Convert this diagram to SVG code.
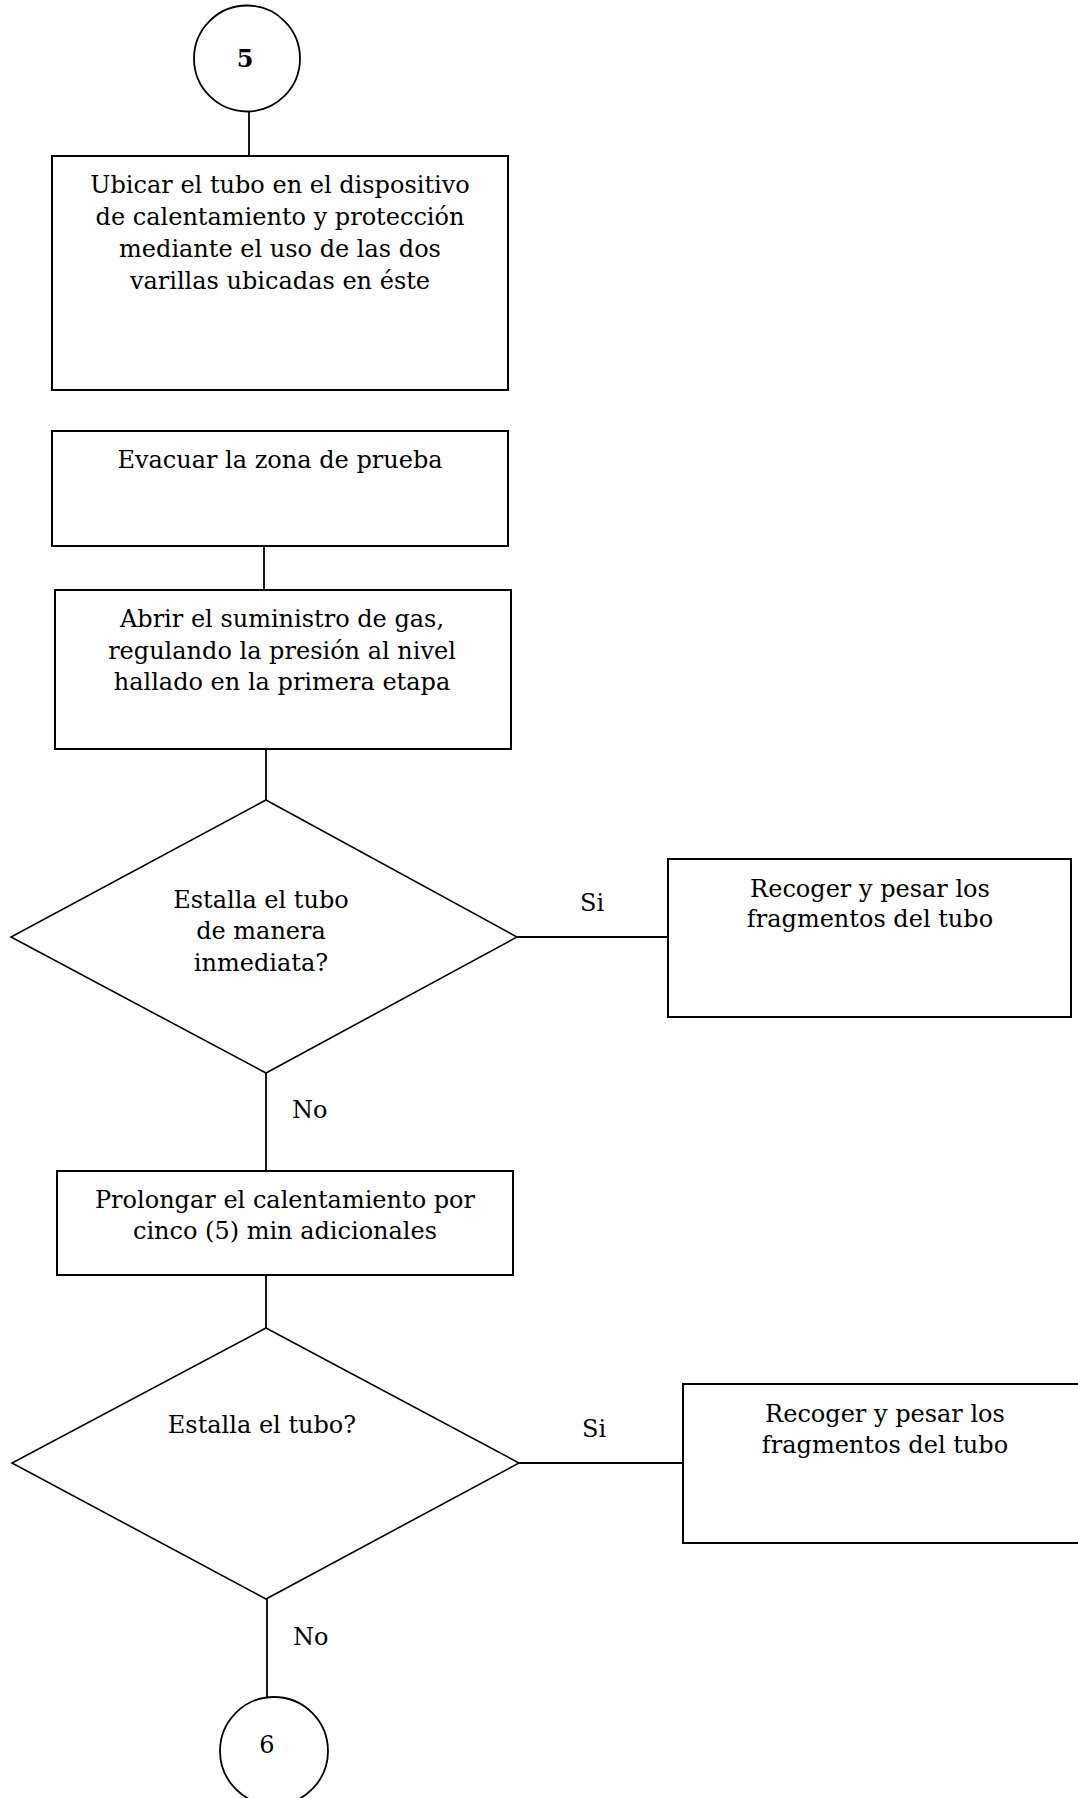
<svg xmlns="http://www.w3.org/2000/svg" width="1078" height="1798" viewBox="0 0 1078 1798">
<style>
.box{fill:#fff;stroke:#000;stroke-width:2}
.dia{fill:#fff;stroke:#000;stroke-width:1.6}
.circ{fill:#fff;stroke:#000;stroke-width:1.8}
.ln{stroke:#000;stroke-width:1.8;fill:none}
text{font-family:"DejaVu Serif","Liberation Serif",serif;font-size:24px;fill:#000;text-anchor:middle}
.lbl{text-anchor:start}
</style>
<rect width="1078" height="1798" fill="#fff"/>
<g id="connectors">
<line class="ln" x1="249" y1="111" x2="249" y2="156"/>
<line class="ln" x1="264" y1="546" x2="264" y2="590"/>
<line class="ln" x1="266" y1="749" x2="266" y2="800"/>
<line class="ln" x1="517" y1="937" x2="668" y2="937"/>
<text class="lbl" x="580" y="911">Si</text>
<line class="ln" x1="266" y1="1073" x2="266" y2="1171"/>
<text class="lbl" x="292" y="1118">No</text>
<line class="ln" x1="266" y1="1275" x2="266" y2="1328"/>
<line class="ln" x1="519" y1="1463" x2="683" y2="1463"/>
<text class="lbl" x="582" y="1437">Si</text>
<line class="ln" x1="267" y1="1599" x2="267" y2="1698"/>
<text class="lbl" x="293" y="1645">No</text>
</g>
<g id="n5">
<circle class="circ" cx="247" cy="58.5" r="53"/>
<text x="245" y="67" font-weight="bold">5</text>
</g>
<g id="ubicar">
<rect class="box" x="52" y="156" width="456" height="234"/>
<text x="280" y="193">Ubicar el tubo en el dispositivo</text>
<text x="280" y="225">de calentamiento y protección</text>
<text x="280" y="257">mediante el uso de las dos</text>
<text x="280" y="289">varillas ubicadas en éste</text>
</g>
<g id="evacuar">
<rect class="box" x="52" y="431" width="456" height="115"/>
<text x="280" y="468">Evacuar la zona de prueba</text>
</g>
<g id="abrir">
<rect class="box" x="55" y="590" width="456" height="159"/>
<text x="282" y="627">Abrir el suministro de gas,</text>
<text x="282" y="658.5">regulando la presión al nivel</text>
<text x="282" y="690">hallado en la primera etapa</text>
</g>
<g id="d1">
<polygon class="dia" points="266,800 517,937 266,1073 11,937"/>
<text x="261" y="908">Estalla el tubo</text>
<text x="261" y="939">de manera</text>
<text x="261" y="971">inmediata?</text>
</g>
<g id="recoger1">
<rect class="box" x="668" y="859" width="403" height="158"/>
<text x="870" y="897">Recoger y pesar los</text>
<text x="870" y="927">fragmentos del tubo</text>
</g>
<g id="prolongar">
<rect class="box" x="57" y="1171" width="456" height="104"/>
<text x="285" y="1208">Prolongar el calentamiento por</text>
<text x="285" y="1239">cinco (5) min adicionales</text>
</g>
<g id="d2">
<polygon class="dia" points="266,1328 519,1463 266,1599 12,1463"/>
<text x="262" y="1433">Estalla el tubo?</text>
</g>
<g id="recoger2">
<rect class="box" x="683" y="1384" width="420" height="159"/>
<text x="885" y="1422">Recoger y pesar los</text>
<text x="885" y="1453">fragmentos del tubo</text>
</g>
<g id="n6">
<circle class="circ" cx="274" cy="1751" r="54"/>
<text x="267" y="1753">6</text>
</g>
</svg>
